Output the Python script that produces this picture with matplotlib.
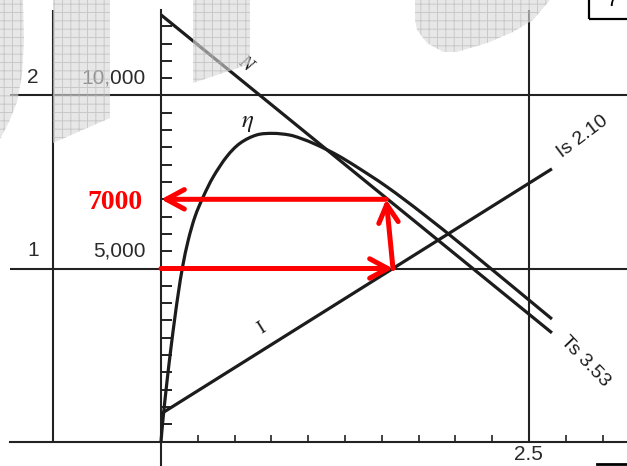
import numpy as np
import matplotlib.pyplot as plt
from matplotlib.patches import Polygon, Rectangle, PathPatch
from matplotlib.path import Path

plt.rcParams['mathtext.fontset'] = 'stix'
plt.rcParams["hatch.linewidth"] = 0.7

# eta curve (x in chart units, y in rpm)
eta_x = [0, 0.014, 0.041, 0.068, 0.095, 0.119, 0.147, 0.185, 0.231, 0.287, 0.355, 0.446,
         0.537, 0.650, 0.761, 0.87, 0.95, 1.06, 1.196, 1.332, 1.535, 1.78, 2.1, 2.656]
eta_y = [0, 670, 1750, 2720, 3610, 4330, 5060, 5820, 6500, 7075, 7650, 8230,
         8620, 8860, 8905, 8860, 8760, 8570, 8280, 7930, 7360, 6580, 5490, 3540]

# speed line N and current line I
n_x = [0, 2.656]
n_y = [12330, 3140]
i_x = [0, 2.656]
i_y = [800, 7880]

# red reading path: 5000 -> across to I -> up to N -> back to 7000
read_low = 5000
read_high = 7000
i_hit_x = 1.576
n_hit_x = 1.53

# frame lines and ticks
h_lines = [0, 5000, 10000]
v_lines = [-0.734, 2.5]
y_ticks = np.arange(500, 12001, 500)
x_ticks = np.arange(0.25, 3.01, 0.25)
row_labels = ["1", "2"]
row_values = ["5,000", "10,000"]
row_levels = [5000, 10000]

# grey watermark blobs behind the drawing (pixel outlines)
watermark_shapes = [
    [(0, 0), (23, 0), (24, 40), (22, 75), (17, 102), (9, 122), (0, 139)],
    [(53, 0), (110, 0), (110, 118), (53, 143)],
    [(193, 0), (250, 0), (250, 64), (193, 83)],
    [(415, 0), (415, 20), (417, 30), (427, 43), (443, 52), (457, 52),
     (487, 43), (513, 32), (533, 20), (550, 0)],
]


def smooth_path(xs, ys):
    """Bezier path passing through the given points (Catmull-Rom style)."""
    p = np.column_stack([xs, ys]).astype(float)
    ext = np.vstack([p[0], p, p[-1]])
    verts = [p[0]]
    codes = [Path.MOVETO]
    for k in range(len(p) - 1):
        p0, p1, p2, p3 = ext[k], ext[k + 1], ext[k + 2], ext[k + 3]
        verts += [p1 + (p2 - p0) / 6, p2 - (p3 - p1) / 6, p2]
        codes += [Path.CURVE4] * 3
    return Path(verts, codes)


W, H = 627, 466
fig = plt.figure(figsize=(W / 100, H / 100), dpi=100)
ax = fig.add_axes([0, 0, 1, 1])
ax.set_xlim(-1.094, 3.166)
ax.set_ylim(-708, 12760)

line_col = "#222222"
curve_col = "#1c1c1c"

# axes as spines crossing at the origin
for side in ["top", "right"]:
    ax.spines[side].set_visible(False)
ax.spines["left"].set_position(("data", 0))
ax.spines["bottom"].set_position(("data", 0))
ax.spines["left"].set_bounds(-800, 12470)
ax.spines["bottom"].set_bounds(-1.026, 3.2)
for side in ["left", "bottom"]:
    ax.spines[side].set_linewidth(1.5)
    ax.spines[side].set_color(line_col)
ax.set_yticks(y_ticks)
ax.set_xticks(x_ticks)
ax.set_yticklabels([])
ax.set_xticklabels([])
ax.tick_params(axis="y", direction="in", length=7.9, width=1.4, color=line_col)
ax.tick_params(axis="x", direction="in", length=5, width=1.2, color=line_col)

ax.hlines(h_lines[1:], -1.026, 3.2, color=line_col, lw=1.5, zorder=1)
ax.vlines(v_lines, 0, 12470, color=line_col, lw=1.5, zorder=1)

ax.plot(n_x, n_y, color=curve_col, lw=2.3, solid_capstyle="butt", zorder=3)
ax.plot(i_x, i_y, color=curve_col, lw=2.3, solid_capstyle="butt", zorder=3)
ax.add_patch(PathPatch(smooth_path(eta_x, eta_y), fill=False, edgecolor=curve_col,
                       lw=2.3, capstyle="butt", zorder=3))

arrow = dict(arrowstyle="->,head_length=0.65,head_width=0.35", color="red",
             lw=3.6, mutation_scale=20, shrinkA=0, shrinkB=0)
ax.annotate("", xy=(i_hit_x, read_low), xytext=(0, read_low), arrowprops=arrow, zorder=6)
ax.annotate("", xy=(n_hit_x, read_high), xytext=(i_hit_x, read_low), arrowprops=arrow, zorder=6)
ax.annotate("", xy=(0, read_high), xytext=(n_hit_x, read_high), arrowprops=arrow, zorder=6)
ax.text(-0.129, 6920, "7000", color="red", fontsize=20, fontweight="bold",
        family="Liberation Serif", ha="right", va="center")

txt = dict(family="Liberation Sans", color="#2a2a2a", fontsize=15, va="center")
for lab, val, lev in zip(row_labels, row_values, row_levels):
    ax.text(-0.87, lev + 520, lab, ha="center", **txt)
    ax.text(-0.102, lev + 520, val, ha="right", **txt)
ax.text(2.493, -390, "2.5", ha="center", **txt)

ax.text(0.571, 10910, "N", family="Liberation Serif", style="italic", fontsize=14,
        rotation=-39, ha="center", va="center", color=curve_col)
ax.text(0.591, 9234, r"$\eta$", fontsize=18, ha="center", va="center", color=curve_col)
ax.text(0.686, 3280, "I", family="Liberation Serif", fontsize=14, rotation=32,
        ha="center", va="center", color=curve_col)
ax.text(2.868, 8800, "Is 2.10", family="Liberation Sans", fontsize=14, rotation=37,
        ha="center", va="center", color=curve_col, rotation_mode="anchor")
ax.text(2.880, 2300, "Ts 3.53", family="Liberation Sans", fontsize=14, rotation=-46,
        ha="center", va="center", color=curve_col, rotation_mode="anchor")

# page furniture: cut box top right and rule bottom right
ax.add_patch(Rectangle((2.908, 12211), 0.4, 800, fill=False, lw=1.6,
                       edgecolor="black", clip_on=False))
ax.text(3.071, 12740, "7", family="Liberation Sans", fontsize=15, ha="center",
        va="center", clip_on=False)
ax.plot([2.962, 3.2], [-650, -650], color="black", lw=2, clip_on=False)

for shape in watermark_shapes:
    pts = [(px / W, 1 - py / H) for px, py in shape]
    fig.patches.append(Polygon(pts, closed=True, transform=fig.transFigure,
                               facecolor="#d8d8d8", edgecolor="#b4b4b4", lw=0,
                               hatch="++", alpha=0.6, zorder=5))

fig.savefig("out.png", dpi=100)
